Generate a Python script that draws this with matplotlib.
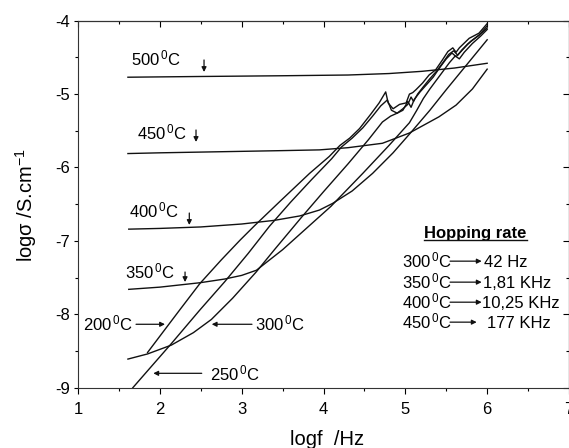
import matplotlib.pyplot as plt
from matplotlib.ticker import MultipleLocator
from matplotlib.lines import Line2D

plt.rcParams['font.family'] = 'Liberation Sans'
plt.rcParams['mathtext.fontset'] = 'custom'
plt.rcParams['mathtext.rm'] = 'Liberation Sans'
plt.rcParams['mathtext.it'] = 'Liberation Sans:italic'
plt.rcParams['mathtext.bf'] = 'Liberation Sans:bold'
plt.rcParams['axes.unicode_minus'] = False

# log f (Hz) and log sigma (S/cm), one pair per temperature
freq200 = [1.85, 2.06, 2.25, 2.49, 2.75, 2.98, 3.16, 3.46, 3.83, 4.07, 4.20, 4.32, 4.44, 4.58, 4.68,
           4.76, 4.79, 4.85, 4.93, 5.01, 5.05, 5.09, 5.13, 5.21, 5.29, 5.37, 5.45, 5.52, 5.58, 5.62,
           5.66, 5.78, 5.90, 6.00]
sig200 = [-8.52, -8.21, -7.93, -7.58, -7.26, -6.99, -6.79, -6.47, -6.08, -5.85, -5.70, -5.60, -5.47, -5.27, -5.12,
          -4.97, -5.12, -5.20, -5.14, -5.12, -5.00, -4.98, -4.94, -4.85, -4.74, -4.67, -4.54, -4.42, -4.37, -4.43,
          -4.37, -4.24, -4.17, -4.04]

freq250 = [1.67, 1.85, 2.14, 2.49, 2.79, 3.08, 3.34, 3.60, 3.85, 4.10, 4.22, 4.35, 4.48, 4.60, 4.70,
           4.78, 4.83, 4.90, 4.97, 5.03, 5.07, 5.10, 5.15, 5.22, 5.30, 5.38, 5.46, 5.53, 5.59, 5.64,
           5.69, 5.80, 5.90, 6.00]
sig250 = [-9.00, -8.77, -8.40, -7.94, -7.56, -7.17, -6.80, -6.47, -6.17, -5.88, -5.72, -5.60, -5.46, -5.30, -5.16,
          -5.08, -5.22, -5.26, -5.20, -5.14, -5.04, -5.10, -5.00, -4.90, -4.79, -4.69, -4.57, -4.46, -4.41, -4.47,
          -4.40, -4.28, -4.20, -4.07]

freq300 = [1.61, 1.85, 2.14, 2.41, 2.63, 2.89, 3.18, 3.40, 3.73, 4.00, 4.30, 4.55, 4.72, 4.82, 4.90,
           4.97, 5.03, 5.07, 5.11, 5.18, 5.26, 5.34, 5.42, 5.50, 5.57, 5.62, 5.68, 5.76, 5.86, 5.94, 6.00]
sig300 = [-8.61, -8.54, -8.42, -8.25, -8.07, -7.78, -7.42, -7.12, -6.68, -6.33, -5.95, -5.62, -5.38, -5.30, -5.26,
          -5.22, -5.10, -5.18, -5.07, -4.97, -4.87, -4.77, -4.64, -4.52, -4.44, -4.49, -4.42, -4.32, -4.23, -4.16, -4.10]

freq350 = [1.62, 2.00, 2.49, 2.79, 3.00, 3.18, 3.50, 3.80, 4.09, 4.48, 4.80, 5.05, 5.14, 5.22, 5.30,
           5.38, 5.46, 5.54, 5.61, 5.66, 5.72, 5.82, 5.92, 6.00]
sig350 = [-7.66, -7.63, -7.57, -7.52, -7.47, -7.40, -7.12, -6.82, -6.53, -6.08, -5.70, -5.39, -5.22, -5.06, -4.93,
          -4.81, -4.69, -4.57, -4.48, -4.52, -4.43, -4.31, -4.21, -4.12]

freq400 = [1.62, 2.00, 2.50, 3.00, 3.40, 3.71, 3.95, 4.11, 4.35, 4.60, 4.85, 5.07, 5.30, 5.50, 5.75, 6.00]
sig400 = [-6.84, -6.83, -6.81, -6.77, -6.72, -6.66, -6.58, -6.49, -6.32, -6.08, -5.80, -5.52, -5.22, -4.94, -4.60, -4.26]

freq450 = [1.61, 2.00, 2.50, 3.00, 3.50, 3.95, 4.30, 4.72, 5.05, 5.41, 5.62, 5.82, 6.00]
sig450 = [-5.81, -5.80, -5.79, -5.78, -5.77, -5.76, -5.73, -5.67, -5.53, -5.31, -5.15, -4.93, -4.66]

freq500 = [1.61, 2.50, 3.50, 4.30, 4.80, 5.20, 5.60, 6.00]
sig500 = [-4.77, -4.76, -4.75, -4.74, -4.72, -4.69, -4.645, -4.58]

temps = ['300', '350', '400', '450']
rates = ['42 Hz', '1,81 KHz', '10,25 KHz', '177 KHz']

curves = [(freq200, sig200), (freq250, sig250), (freq300, sig300), (freq350, sig350),
          (freq400, sig400), (freq450, sig450), (freq500, sig500)]

fig = plt.figure(figsize=(5.69, 4.48), dpi=100)
ax = fig.add_axes([0.1371, 0.1346, 0.8629, 0.8192])

for f, s in curves:
    ax.plot(f, s, color='#111111', lw=1.0)

ax.set_xlim(1, 7)
ax.set_ylim(-9, -4)
ax.xaxis.set_major_locator(MultipleLocator(1))
ax.xaxis.set_minor_locator(MultipleLocator(0.5))
ax.yaxis.set_major_locator(MultipleLocator(1))
ax.yaxis.set_minor_locator(MultipleLocator(0.5))
ax.tick_params(which='both', direction='out', labelsize=12, top=False, right=False, width=0.8)
ax.tick_params(axis='x', which='major', length=4, pad=6)
ax.tick_params(axis='x', which='minor', length=2.5)
ax.tick_params(axis='y', which='major', length=3, pad=2.5)
ax.tick_params(axis='y', which='minor', length=2)
for sp in ax.spines.values():
    sp.set_linewidth(0.8)
    sp.set_color('#333333')

# mirrored ticks on top and right, pointing in
secx = ax.secondary_xaxis('top')
secx.xaxis.set_major_locator(MultipleLocator(1))
secx.xaxis.set_minor_locator(MultipleLocator(0.5))
secx.tick_params(which='both', direction='in', labeltop=False, width=0.8)
secx.tick_params(which='major', length=4.5)
secx.tick_params(which='minor', length=2.5)
secy = ax.secondary_yaxis('right')
secy.yaxis.set_major_locator(MultipleLocator(1))
secy.yaxis.set_minor_locator(MultipleLocator(0.5))
secy.tick_params(which='both', direction='in', labelright=False, width=0.8)
secy.tick_params(which='major', length=4.5)
secy.tick_params(which='minor', length=2.5)

fig.text(26 / 569, 1 - 205 / 448, 'logσ /S.cm$^{-1}$', rotation=90, ha='center', va='center', fontsize=14.5)
fig.text(327 / 569, 3 / 448, 'logf  /Hz', ha='center', va='baseline', fontsize=14.5)

arrow = dict(arrowstyle='-|>', color='#111111', lw=0.9, mutation_scale=7, shrinkA=0, shrinkB=0)
deg = r'$^{\,0}$C'

# temperature labels on the curves
labels = [('500', 1.648, -4.613), ('450', 1.725, -5.616), ('400', 1.623, -6.679), ('350', 1.574, -7.51),
          ('200', 1.057, -8.223), ('300', 3.163, -8.223), ('250', 2.613, -8.895)]
for t, x, y in labels:
    ax.text(x, y, t + deg, fontsize=12, ha='left', va='baseline')

down_arrows = [(2.540, -4.535, -4.699), (2.442, -5.489, -5.652), (2.360, -6.620, -6.783), (2.308, -7.424, -7.561)]
for x, y0, y1 in down_arrows:
    ax.annotate('', xy=(x, y1), xytext=(x, y0), arrowprops=arrow)

side_arrows = [(1.709, 2.063, -8.136), (3.126, 2.634, -8.136), (2.512, 1.920, -8.804)]
for x0, x1, y in side_arrows:
    ax.annotate('', xy=(x1, y), xytext=(x0, y), arrowprops=arrow)

# hopping rate box
title = ax.text(5.858, -6.956, 'Hopping rate', fontsize=12, fontweight='bold', ha='center', va='baseline')
row_base = [-7.356, -7.642, -7.915, -8.187]
rate_x = [5.962, 5.953, 5.933, 5.994]
for i, (t, r) in enumerate(zip(temps, rates)):
    yb = row_base[i]
    ax.text(4.955, yb, t + deg, fontsize=12, ha='left', va='baseline')
    x_end = 5.872 if i == 3 else 5.933
    ax.annotate('', xy=(x_end, yb + 0.08), xytext=(5.546, yb + 0.08), arrowprops=arrow)
    ax.text(rate_x[i], yb, r, fontsize=12, ha='left', va='baseline')

fig.canvas.draw()
bb = title.get_window_extent()
fig.add_artist(Line2D([bb.x0, bb.x1], [bb.y0 + 0.5, bb.y0 + 0.5], transform=None, color='#111111', lw=1.0))

fig.savefig('out.png', dpi=100)
